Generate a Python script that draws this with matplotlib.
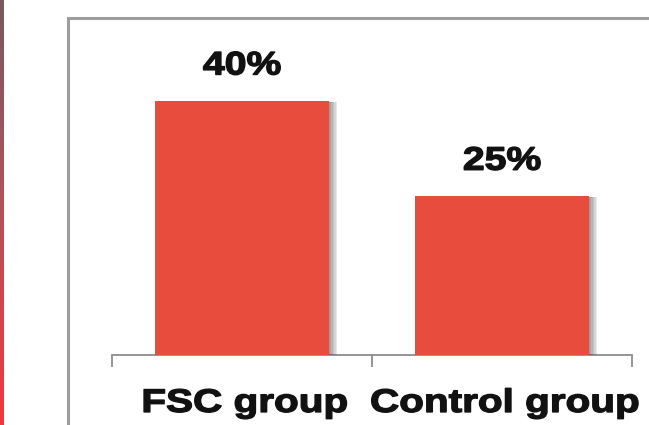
import matplotlib.pyplot as plt
import matplotlib.patheffects as pe
import numpy as np
from matplotlib.colors import LinearSegmentedColormap
from matplotlib.lines import Line2D
from matplotlib.transforms import Affine2D

groups = ["FSC group", "Control group"]
percent = [40, 25]

bar_color = "#e74c3c"
frame_color = "#9d9d9d"
axis_color = "#8c8c8c"


class WideBold(pe.AbstractPathEffect):
    """Widen glyph outlines about their centre and thicken the strokes."""

    def __init__(self, sx, lw):
        super().__init__()
        self.sx = sx
        self.lw = lw

    def draw_path(self, renderer, gc, tpath, affine, rgbFace=None):
        ext = tpath.get_extents()
        cx = (ext.x0 + ext.x1) / 2
        wide = Affine2D().translate(-cx, 0).scale(self.sx, 1).translate(cx, 0)
        gc0 = renderer.new_gc()
        gc0.copy_properties(gc)
        gc0.set_linewidth(self.lw)
        gc0.set_foreground(rgbFace)
        gc0.set_joinstyle("round")
        renderer.draw_path(gc0, tpath, wide + affine, rgbFace)
        gc0.restore()


fig = plt.figure(figsize=(6.49, 4.25), dpi=100)
W, H = 649, 425

# thin gradient strip on the left edge
strip = fig.add_axes([0, 0, 3.5 / W, 1])
strip_cmap = LinearSegmentedColormap.from_list(
    "strip", ["#765a5f", "#b4525c", "#ee383d"])
strip.imshow(np.linspace(0, 1, 256).reshape(-1, 1), aspect="auto",
             cmap=strip_cmap)
strip.set_axis_off()

# outer frame: left and top edges only
fx = 67.5 / W
fy = 1 - 17.5 / H
fig.add_artist(Line2D([fx, fx, 1.0], [0.0, fy, fy], transform=fig.transFigure,
                      color=frame_color, linewidth=2.2,
                      solid_joinstyle="miter"))

ax = fig.add_axes([112 / W, 70 / H, 520 / W, 338 / H])
ax.set_xlim(-0.5, 1.5)
ax.set_ylim(0, 53.2)

x = np.arange(len(groups))
shadow = [pe.SimplePatchShadow(offset=(k, -0.8), shadow_rgbFace="#3c3c3c",
                               alpha=0.11) for k in (1, 2, 3, 4, 5, 6)]
bars = ax.bar(x, percent, width=0.667, color=bar_color, zorder=3)
for b in bars:
    b.set_path_effects(shadow + [pe.Normal()])

font = dict(family="Liberation Sans", fontweight="bold", color="#111111")

for i, v in enumerate(percent):
    t = ax.annotate(f"{v}%", xy=(i, v), xytext=(0, 19),
                    textcoords="offset points", ha="center", va="baseline",
                    fontsize=23.5, **font)
    t.set_path_effects([WideBold(1.2, 1.0)])

for i, g in enumerate(groups):
    t = ax.annotate(g, xy=(i, 0), xycoords=ax.get_xaxis_transform(),
                    xytext=(2, -41), textcoords="offset points",
                    ha="center", va="baseline", fontsize=23.5, **font)
    t.set_path_effects([WideBold(1.24, 1.0)])

for side in ["top", "right", "left"]:
    ax.spines[side].set_visible(False)
ax.spines["bottom"].set_color(axis_color)
ax.spines["bottom"].set_linewidth(1.3)
ax.set_xticks([-0.5, 0.5, 1.5])
ax.set_xticklabels([])
ax.set_yticks([])
ax.tick_params(axis="x", direction="out", length=8.5, width=1.3,
               color=axis_color)
ax.patch.set_alpha(0)

fig.savefig("out.png", dpi=100)
